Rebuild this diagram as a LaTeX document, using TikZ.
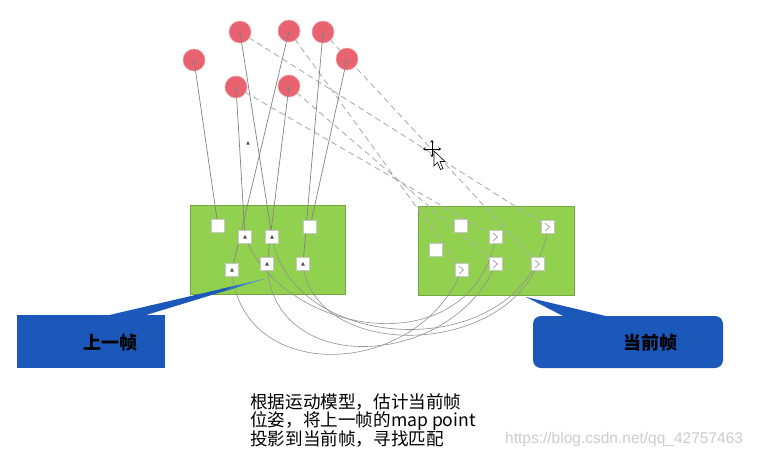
\documentclass[tikz,border=0pt]{standalone}
\usepackage{fontspec}
\setmainfont{Liberation Sans}
\newfontfamily\cjk{Noto Sans CJK SC}
\usetikzlibrary{arrows.meta}
\definecolor{dotred}{RGB}{232,98,112}
\definecolor{framegreen}{RGB}{146,208,80}
\definecolor{callblue}{RGB}{28,88,186}
\definecolor{tipblue}{RGB}{120,190,240}
\definecolor{raygray}{RGB}{130,130,130}
\definecolor{projgray}{RGB}{175,175,175}
\definecolor{matchgray}{RGB}{145,145,145}
\begin{document}
\begin{tikzpicture}[x=1pt,y=-1pt,
  mappt/.style={circle, fill=dotred, draw=dotred!60!white, line width=0.6pt, minimum size=22pt, inner sep=0pt},
  kpbox/.style={rectangle, fill=white, draw=gray!45, line width=0.6pt, minimum size=13pt, inner sep=0pt},
  framebox/.style={rectangle, fill=framegreen, draw=framegreen!80!black, line width=0.4pt, inner sep=0pt, anchor=north west},
  ray/.style={draw=raygray, line width=0.7pt, -{Stealth[length=3.5pt,width=3pt]}},
  proj/.style={draw=projgray, line width=0.9pt, dash pattern=on 6pt off 4pt},
  matchline/.style={draw=matchgray, line width=0.6pt},
  calltext/.style={font=\cjk\bfseries\fontsize{18}{20}\selectfont, text=black, inner sep=0pt},
  tinymark/.style={fill=black!70}
]
\useasboundingbox (0,0) rectangle (764,464);
\fill[white] (0,0) rectangle (764,464);

% frames
\node[framebox, minimum width=155pt, minimum height=89pt] (lf) at (190,205) {};
\node[framebox, minimum width=156pt, minimum height=89pt] (rf) at (418,206) {};

% map point coordinates (circles drawn later)
\coordinate (c1) at (194,60);
\coordinate (c2) at (240,32);
\coordinate (c3) at (289,31);
\coordinate (c4) at (323,32);
\coordinate (c5) at (347,59);
\coordinate (c6) at (236,87);
\coordinate (c7) at (289,86);

% keypoints of previous frame
\coordinate (k1) at (218,226);
\coordinate (k2) at (245,237);
\coordinate (k3) at (272,237);
\coordinate (k4) at (310,227);
\coordinate (k5) at (232,270);
\coordinate (k6) at (267,264);
\coordinate (k7) at (303,264);

% keypoints of current frame
\coordinate (m1) at (461,226);
\coordinate (m2) at (436,250);
\coordinate (m3) at (496,237);
\coordinate (m4) at (548,227);
\coordinate (m5) at (462,270);
\coordinate (m6) at (496,264);
\coordinate (m7) at (538,264);

% projections (dashed)
\draw[proj] (c2) -- (m4);
\draw[proj] (c3) -- (m5);
\draw[proj] (c4) -- (m7);
\draw[proj] (c6) -- (m3);
\draw[proj] (c7) -- (m6);

% matching curves
\draw[matchline] (k2) .. controls +(40,100) and +(-25,130) .. (m3);
\draw[matchline] (k3) .. controls +(20,120) and +(-20,140) .. (m4);
\draw[matchline] (k5) .. controls +(8,115) and +(-45,110) .. (m5);
\draw[matchline] (k6) .. controls +(5,115) and +(-45,105) .. (m6);
\draw[matchline] (k7) .. controls +(10,95) and +(-40,95) .. (m7);

% map points
\node[mappt] (p1) at (c1) {};
\node[mappt] (p2) at (c2) {};
\node[mappt] (p3) at (c3) {};
\node[mappt] (p4) at (c4) {};
\node[mappt] (p5) at (c5) {};
\node[mappt] (p6) at (c6) {};
\node[mappt] (p7) at (c7) {};

% rays from previous-frame keypoints to map points
\draw[ray] (k1) -- (p1.center);
\draw[ray] (k3) -- (p2.center);
\draw[ray] (k5) -- (p3.center);
\draw[ray] (k7) -- (p4.center);
\draw[ray] (k4) -- (p5.center);
\draw[ray] (k2) -- (p6.center);
\draw[ray] (k6) -- (p7.center);

% keypoint boxes
\node[kpbox] (l1) at (k1) {};
\node[kpbox] (l2) at (k2) {};
\node[kpbox] (l3) at (k3) {};
\node[kpbox] (l4) at (k4) {};
\node[kpbox] (l5) at (k5) {};
\node[kpbox] (l6) at (k6) {};
\node[kpbox] (l7) at (k7) {};
\node[kpbox] (r1) at (m1) {};
\node[kpbox] (r2) at (m2) {};
\node[kpbox] (r3) at (m3) {};
\node[kpbox] (r4) at (m4) {};
\node[kpbox] (r5) at (m5) {};
\node[kpbox] (r6) at (m6) {};
\node[kpbox] (r7) at (m7) {};

% small marks inside boxes
\foreach \k in {k2,k3,k5,k6,k7}{
  \fill[tinymark] ([shift={(0,-2)}]\k) -- ([shift={(-1.8,1.5)}]\k) -- ([shift={(1.8,1.5)}]\k) -- cycle;
}
\foreach \m in {m3,m4,m5,m6,m7}{
  \draw[matchgray, line width=0.6pt] ([shift={(-3,-4)}]\m) -- ([shift={(1.5,0)}]\m) -- ([shift={(-3,4)}]\m);
}
% stray mark
\fill[tinymark] (248,141) -- (246.3,144.5) -- (249.7,144.5) -- cycle;

% callouts
\fill[callblue] (264,279) -- (105,316) -- (143,316) -- cycle;
\shade[left color=callblue, right color=tipblue] (222,288.9) -- (264,279) -- (222,291.8) -- cycle;
\node[rectangle, fill=callblue, minimum width=148pt, minimum height=53pt, inner sep=0pt] (lc) at (91,341.5) {};
\node[calltext] (lt) at (110,343) {上一帧};

\fill[callblue] (526,297) -- (565,317) -- (610,317) -- cycle;
\node[rectangle, rounded corners=8pt, fill=callblue, minimum width=190pt, minimum height=52pt, inner sep=0pt] (rc) at (628,342) {};
\node[calltext] (rt) at (650,343) {当前帧};

% caption
\node[anchor=north west, align=left, inner sep=0pt, font=\cjk\fontsize{17.6}{18}\selectfont] (cap) at (250,393)
  {根据运动模型，估计当前帧\\位姿，将上一帧的map point\\投影到当前帧，寻找匹配};

% watermark
\node[anchor=west, inner sep=0pt, text=gray!40, font=\fontsize{15.5}{17}\selectfont] (wm) at (505,439)
  {https://blog.csdn.net/qq\_42757463};

% mouse cursor
\begin{scope}[line width=0.9pt, black]
  \draw[-{Stealth[length=2.5pt,width=3.5pt]}] (432,149) -- (432,140);
  \draw[-{Stealth[length=2.5pt,width=3.5pt]}] (432,149) -- (423,149);
  \draw[-{Stealth[length=2.5pt,width=3.5pt]}] (432,149) -- (441,149);
  \draw[-{Stealth[length=2.5pt,width=3.5pt]}] (432,149) -- (432,157);
  \filldraw[fill=white, draw=black, line width=0.6pt] (434,151) -- (434,166) -- (437.5,162.5) -- (440.5,169.5) -- (443,168.5) -- (440,161.5) -- (445,161.5) -- cycle;
\end{scope}
\end{tikzpicture}
\end{document}
